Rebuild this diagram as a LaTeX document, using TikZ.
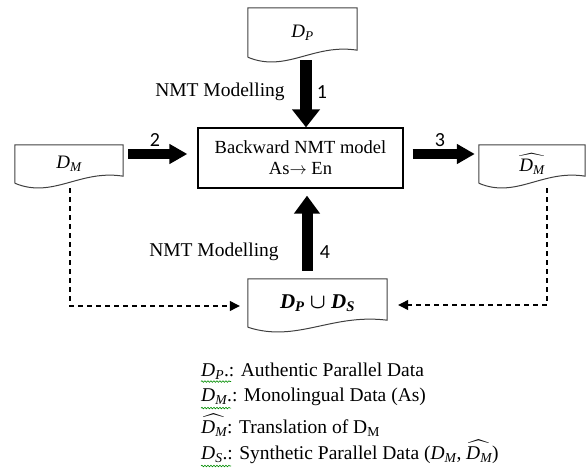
\documentclass[tikz,border=0pt]{standalone}
\usepackage{amsmath}
\usepackage{fontspec}
\setmainfont{Liberation Serif}
\newfontfamily\numfont{Carlito}
\usetikzlibrary{arrows.meta,calc,decorations.pathmorphing}
\newcommand\Di[2]{\textit{#1}$_{\text{\itshape #2}}$}
\newcommand\Db[2]{\textbf{\textit{#1}}$_{\text{\bfseries\itshape #2}}$}
\newcommand\Dh[2]{$\widehat{\text{\Di{#1}{#2}}}$}
\newcommand\docframe[1]{\draw[docline] (#1.south west) -- (#1.north west) -- (#1.north east) -- ([yshift=7pt]#1.south east) .. controls ($(#1.south west)!0.6!(#1.south east)+(0,-14)$) and ($(#1.south west)!0.35!(#1.south east)+(0,16)$) .. (#1.south west);}
\begin{document}
\begin{tikzpicture}[x=1pt,y=-1pt,
  docnode/.style={inner sep=0pt, font=\fontsize{19}{22}\selectfont},
  docline/.style={draw=black!75, line width=1pt},
  mainbox/.style={draw=black, line width=1.3pt, inner sep=0pt, align=center, font=\fontsize{18.5}{21}\selectfont},
  lbl/.style={inner sep=0pt, font=\fontsize{19.5}{22}\selectfont},
  num/.style={inner sep=0pt, font=\numfont\fontsize{20}{22}\selectfont},
  bigv/.style={line width=12pt, -{Triangle[length=18pt,width=27pt]}},
  bigu/.style={line width=11pt, -{Triangle[length=18pt,width=25pt]}},
  bigh/.style={line width=10pt, -{Triangle[length=18pt,width=19pt]}},
  dasharrow/.style={line width=1.2pt, dash pattern=on 5pt off 4pt, -{Triangle[length=10pt,width=10pt]}},
  legend/.style={inner sep=0pt, anchor=west, font=\fontsize{19.5}{22}\selectfont},
  squiggle/.style={draw=green!55!black, line width=0.6pt, decorate, decoration={snake, amplitude=0.8pt, segment length=3pt}}
]
\useasboundingbox (0,0) rectangle (586,468);

% documents
\node[docnode, minimum width=109pt, minimum height=49pt] (dp) at (302.5,32.5) {\Di DP};
\docframe{dp}
\node[docnode, minimum width=108pt, minimum height=38pt] (dm) at (69,164) {\Di DM};
\docframe{dm}
\node[docnode, minimum width=106pt, minimum height=38pt] (dmh) at (532,164) {\Dh DM};
\docframe{dmh}
\node[docnode, minimum width=139pt, minimum height=48pt, font=\fontsize{21}{24}\selectfont] (un) at (317.5,303) {\Db DP $\boldsymbol{\cup}$ \Db DS};
\docframe{un}

% main box
\node[mainbox, minimum width=205pt, minimum height=60pt] (nmt) at (300.5,158) {Backward NMT model\\As$\rightarrow$ En};

% thick arrows
\coordinate (a1s) at ([xshift=3.5pt,yshift=-3pt]dp.south);
\draw[bigv] (a1s) -- (a1s |- nmt.north);
\coordinate (a2s) at ([xshift=5pt,yshift=10pt]dm.east);
\draw[bigh] (a2s) -- ([xshift=-10pt]nmt.west |- a2s);
\coordinate (a3s) at ([xshift=9pt,yshift=4pt]nmt.east);
\draw[bigh] (a3s) -- ([xshift=-4pt]dmh.west |- a3s);
\coordinate (a4s) at ([xshift=-10.5pt,yshift=8pt]un.north);
\draw[bigu] (a4s) -- ([yshift=-7pt]a4s |- nmt.south);

% dashed arrows
\draw[dasharrow] ([xshift=1pt,yshift=-5pt]dm.south) |- ([xshift=-8pt,yshift=-3pt]un.west);
\draw[dasharrow] ([xshift=15pt,yshift=-5pt]dmh.south) |- ([xshift=11pt,yshift=-2pt]un.east);

% labels
\node[lbl] (l1) at (220,92) {NMT Modelling};
\node[num] (n1) at (322,92) {1};
\node[num] (n2) at (155,140) {2};
\node[num] (n3) at (440,140) {3};
\node[lbl] (l4) at (214,252) {NMT Modelling};
\node[num] (n4) at (325,252) {4};

% legend
\node[legend] (g1) at (201,371) {\Di DP.: Authentic Parallel Data};
\node[legend] (g2) at (201,397) {\Di DM.: Monolingual Data (As)};
\node[legend] (g3) at (201,425) {\Dh DM: Translation of D\textsubscript{M}};
\node[legend] (g4) at (201,452) {\Di DS.: Synthetic Parallel Data (\Di DM, \Dh DM)};
\draw[squiggle] ([yshift=-2pt]g1.south west) -- ++(30,0);
\draw[squiggle] ([yshift=-2pt]g2.south west) -- ++(30,0);
\draw[squiggle] ([yshift=-2pt]g4.south west) -- ++(30,0);
\end{tikzpicture}
\end{document}
